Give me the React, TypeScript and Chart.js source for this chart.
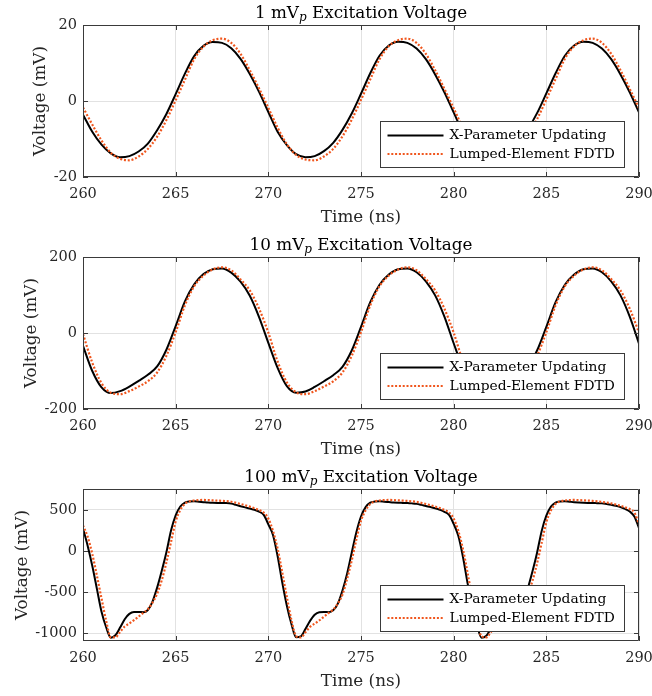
import React, { useEffect, useRef } from "react";
import { Chart, registerables } from "chart.js";

Chart.register(...registerables);

// ---------------- data ----------------
const T_START = 260;
const T_END = 290;
const STEP_COARSE = 0.5; // sampling step (ns) of panels 1 and 2
const STEP_FINE = 0.25; // sampling step (ns) of panel 3

const seriesNames = ["X-Parameter Updating", "Lumped-Element FDTD"];
const amplitudes = ["1", "10", "100"];
const xTickValues = [260, 265, 270, 275, 280, 285, 290];

// panel 1 : 1 mVp (mV)
const p1XParam = [
  -3.6, -8.1, -11.5, -13.8, -14.8, -14.5, -13.3, -11.2, -7.7, -3.4, 1.8, 7.2, 11.8, 14.5, 15.5, 15.3, 13.9, 11.1, 7.1, 2.4,
  -2.9, -8.1, -11.6, -14.0, -14.8, -14.5, -13.2, -11.0, -7.6, -3.3, 1.9, 7.3, 11.9, 14.6, 15.6, 15.3, 13.8, 11.0, 7.0, 2.3,
  -3.0, -8.2, -11.7, -14.0, -14.8, -14.4, -13.2, -11.0, -7.5, -3.2, 2.0, 7.3, 11.9, 14.6, 15.6, 15.3, 13.8, 11.0, 7.0, 2.3,
  -3.0,
];
const p1Fdtd = [
  -1.7, -6.2, -10.4, -13.6, -15.2, -15.6, -14.6, -12.6, -9.4, -5.0, 0.2, 5.6, 11.0, 14.3, 16.0, 16.4, 15.3, 12.4, 8.1, 3.3,
  -1.8, -7.0, -11.4, -14.2, -15.4, -15.6, -14.6, -12.6, -9.3, -4.9, 0.3, 5.7, 11.0, 14.4, 16.0, 16.4, 15.3, 12.4, 8.1, 3.2,
  -1.9, -7.1, -11.5, -14.2, -15.4, -15.6, -14.6, -12.5, -9.3, -4.8, 0.4, 5.8, 11.1, 14.4, 16.0, 16.4, 15.3, 12.4, 8.1, 3.2,
  -1.9,
];

// panel 2 : 10 mVp (mV)
const p2XParam = [
  -34, -100, -143, -158, -153, -141, -126, -110, -88, -44, 18, 83, 128, 155, 168, 170, 159, 135, 98, 42,
  -26, -92, -140, -157, -154, -142, -127, -111, -89, -46, 16, 81, 127, 154, 168, 170, 160, 136, 99, 43,
  -27, -93, -140, -157, -154, -142, -127, -111, -89, -46, 16, 81, 127, 154, 168, 170, 160, 136, 99, 43,
  -28,
];
const p2Fdtd = [
  -3, -78, -132, -157, -161, -153, -141, -127, -104, -60, 2, 73, 123, 151, 167, 173, 165, 141, 112, 64,
  1, -75, -130, -156, -161, -153, -141, -127, -104, -60, 2, 73, 123, 151, 167, 173, 165, 142, 112, 64,
  1, -75, -130, -156, -161, -153, -141, -127, -104, -60, 2, 73, 123, 151, 167, 173, 165, 142, 112, 64,
  1,
];

// panel 3 : 100 mVp (mV)
const p3XParam = [
  275, 65, -180, -460, -740, -928, -1055, -1025, -932, -830, -765, -742, -742, -745, -718, -615, -445, -240, -15, 250,
  435, 542, 590, 603, 605, 600, 595, 590, 587, 586, 586, 584, 577, 562, 546, 531, 517, 503, 480, 440,
  325, 195, -60, -380, -665, -890, -1050, -1040, -950, -850, -775, -745, -742, -744, -722, -640, -480, -275, -20, 230,
  420, 535, 588, 602, 605, 601, 596, 591, 588, 586, 584, 580, 574, 562, 548, 535, 520, 502, 478, 440,
  330, 185, -70, -390, -670, -895, -1055, -1035, -945, -840, -770, -744, -742, -745, -720, -625, -455, -250, -20, 245,
  430, 540, 590, 603, 605, 600, 595, 591, 588, 586, 585, 582, 580, 572, 563, 552, 535, 512, 480, 420,
  280,
];
const p3Fdtd = [
  313, 175, -35, -300, -578, -850, -1050, -1050, -985, -918, -882, -842, -798, -754, -708, -628, -520, -355, -140, 110,
  360, 500, 575, 605, 615, 620, 622, 620, 617, 614, 611, 607, 600, 588, 573, 557, 540, 520, 498, 468,
  395, 245, 30, -260, -560, -845, -1035, -1052, -990, -922, -884, -845, -800, -756, -712, -640, -530, -340, -115, 140,
  370, 495, 572, 604, 615, 620, 622, 620, 617, 614, 610, 605, 598, 587, 573, 558, 541, 522, 500, 470,
  395, 245, 25, -265, -565, -848, -1036, -1052, -990, -922, -884, -845, -800, -756, -710, -635, -525, -365, -150, 100,
  350, 495, 574, 605, 615, 620, 622, 620, 617, 614, 610, 605, 598, 590, 580, 566, 550, 532, 512, 470,
  325,
];

const yMins = [-20, -200, -1095];
const yMaxs = [20, 200, 755];
const p1YTicks = [-20, 0, 20];
const p2YTicks = [-200, 0, 200];
const p3YTicks = [-1000, -500, 0, 500];

// ---------------- style ----------------
const FONT = '"DejaVu Serif", "Liberation Serif", serif';
const AXIS_COLOR = "#3a3a3a";
const TEXT_COLOR = "#262626";
const GRID_COLOR = "#e2e2e2";
const ORANGE = "#F0561D";
const ORANGE_DASH = [2, 1.8];
const W = 652;
const H = 232;

const toXY = (step: number, ys: number[]) => ys.map((y, i) => ({ x: T_START + i * step, y }));

const panels = [
  { amp: amplitudes[0], step: STEP_COARSE, a: p1XParam, b: p1Fdtd, yMin: yMins[0], yMax: yMaxs[0], yTicks: p1YTicks, yTitlePad: 31 },
  { amp: amplitudes[1], step: STEP_COARSE, a: p2XParam, b: p2Fdtd, yMin: yMins[1], yMax: yMaxs[1], yTicks: p2YTicks, yTitlePad: 21.5 },
  { amp: amplitudes[2], step: STEP_FINE, a: p3XParam, b: p3Fdtd, yMin: yMins[2], yMax: yMaxs[2], yTicks: p3YTicks, yTitlePad: 13 },
];

function makeDecor(amp: string) {
  return {
    id: "decor",
    afterDraw(chart: any) {
      const { ctx, chartArea } = chart;
      const { left, right, top, bottom } = chartArea;
      const xs = chart.scales.x;
      const ys = chart.scales.y;
      ctx.save();
      // frame
      ctx.strokeStyle = AXIS_COLOR;
      ctx.lineWidth = 1;
      ctx.setLineDash([]);
      ctx.beginPath();
      ctx.rect(Math.round(left) + 0.5, Math.round(top) + 0.5, Math.round(right - left) - 1, Math.round(bottom - top) - 1);
      ctx.stroke();
      // inward tick marks
      const TL = 5;
      ctx.beginPath();
      xs.ticks.forEach((t: any) => {
        const px = Math.round(xs.getPixelForValue(t.value)) + 0.5;
        ctx.moveTo(px, bottom);
        ctx.lineTo(px, bottom - TL);
        ctx.moveTo(px, top);
        ctx.lineTo(px, top + TL);
      });
      ys.ticks.forEach((t: any) => {
        const py = Math.round(ys.getPixelForValue(t.value)) + 0.5;
        ctx.moveTo(left, py);
        ctx.lineTo(left + TL, py);
        ctx.moveTo(right, py);
        ctx.lineTo(right - TL, py);
      });
      ctx.stroke();

      // title with subscript
      const mainFont = `16.8px ${FONT}`;
      const subFont = `italic 12px ${FONT}`;
      const s1 = `${amp} mV`;
      const s2 = "p";
      const s3 = " Excitation Voltage";
      ctx.fillStyle = "#000";
      ctx.textBaseline = "alphabetic";
      ctx.textAlign = "left";
      ctx.font = mainFont;
      const w1 = ctx.measureText(s1).width;
      const w3 = ctx.measureText(s3).width;
      ctx.font = subFont;
      const w2 = ctx.measureText(s2).width;
      let x = (left + right) / 2 - (w1 + w2 + w3) / 2;
      const y = 17.5;
      ctx.font = mainFont;
      ctx.fillText(s1, x, y);
      x += w1;
      ctx.font = subFont;
      ctx.fillText(s2, x, y + 3.5);
      x += w2;
      ctx.font = mainFont;
      ctx.fillText(s3, x, y);

      // legend box
      const bw = 244;
      const bh = 46;
      const bx = Math.round(right - 15 - bw) + 0.5;
      const by = Math.round(bottom - 10 - bh) + 0.5;
      ctx.fillStyle = "#fff";
      ctx.fillRect(bx, by, bw, bh);
      ctx.strokeStyle = AXIS_COLOR;
      ctx.lineWidth = 1;
      ctx.strokeRect(bx, by, bw, bh);
      const rows = [by + 14, by + 32.5];
      chart.data.datasets.forEach((ds: any, i: number) => {
        const ry = rows[i];
        ctx.strokeStyle = ds.borderColor;
        ctx.lineWidth = ds.borderWidth;
        ctx.setLineDash(ds.borderDash || []);
        ctx.beginPath();
        ctx.moveTo(bx + 7, ry);
        ctx.lineTo(bx + 63, ry);
        ctx.stroke();
        ctx.setLineDash([]);
        ctx.fillStyle = "#000";
        ctx.font = `13.8px ${FONT}`;
        ctx.textBaseline = "middle";
        ctx.textAlign = "left";
        ctx.fillText(ds.label, bx + 69, ry);
      });
      ctx.restore();
    },
  };
}

function Panel(props: any) {
  const ref = useRef<HTMLCanvasElement | null>(null);
  const { amp, step, a, b, yMin, yMax, yTicks, yTitlePad } = props;
  useEffect(() => {
    if (!ref.current) return;
    const chart = new Chart(ref.current, {
      type: "line",
      data: {
        datasets: [
          {
            label: seriesNames[0],
            data: toXY(step, a),
            borderColor: "#000000",
            borderWidth: 2,
            pointRadius: 0,
            cubicInterpolationMode: "monotone",
            fill: false,
            order: 1,
          },
          {
            label: seriesNames[1],
            data: toXY(step, b),
            borderColor: ORANGE,
            borderWidth: 2.2,
            borderDash: ORANGE_DASH,
            pointRadius: 0,
            cubicInterpolationMode: "monotone",
            fill: false,
            order: 0,
          },
        ],
      } as any,
      options: {
        responsive: false,
        animation: false,
        devicePixelRatio: 1,
        events: [],
        layout: { padding: { top: 25, right: 13, left: 0, bottom: 0 } },
        plugins: {
          legend: { display: false },
          tooltip: { enabled: false },
          title: { display: false },
        },
        scales: {
          x: {
            type: "linear",
            min: T_START,
            max: T_END,
            afterBuildTicks: (s: any) => {
              s.ticks = xTickValues.map((v) => ({ value: v }));
            },
            afterFit: (s: any) => {
              s.height = 55;
              s.paddingLeft = 0;
              s.paddingRight = 0;
            },
            ticks: {
              padding: 9,
              color: TEXT_COLOR,
              font: { family: FONT, size: 14.5 },
              maxRotation: 0,
              autoSkip: false,
              callback: (v: any) => String(v),
            },
            grid: { color: GRID_COLOR, lineWidth: 1, drawTicks: false },
            border: { display: false },
            title: {
              display: true,
              text: "Time (ns)",
              color: TEXT_COLOR,
              font: { family: FONT, size: 16.8 },
              padding: { top: 0, bottom: 4 },
            },
          },
          y: {
            type: "linear",
            min: yMin,
            max: yMax,
            afterBuildTicks: (s: any) => {
              s.ticks = yTicks.map((v: number) => ({ value: v }));
            },
            afterFit: (s: any) => {
              s.width = 83;
              s.paddingTop = 0;
              s.paddingBottom = 0;
            },
            ticks: {
              padding: 6,
              color: TEXT_COLOR,
              font: { family: FONT, size: 14.5 },
              autoSkip: false,
              callback: (v: any) => String(v),
            },
            grid: { color: GRID_COLOR, lineWidth: 1, drawTicks: false },
            border: { display: false },
            title: {
              display: true,
              text: "Voltage (mV)",
              color: TEXT_COLOR,
              font: { family: FONT, size: 16.8 },
              padding: { top: yTitlePad, bottom: 0 },
            },
          },
        },
      } as any,
      plugins: [makeDecor(amp)],
    });
    return () => chart.destroy();
  }, []);
  return <canvas ref={ref} width={W} height={H} style={{ display: "block", width: W, height: H }} />;
}

export default function App() {
  return (
    <div style={{ position: "absolute", left: 0, top: 0, width: W, height: H * 3, background: "#fff" }}>
      {panels.map((p, i) => (
        <Panel key={i} {...p} />
      ))}
    </div>
  );
}
